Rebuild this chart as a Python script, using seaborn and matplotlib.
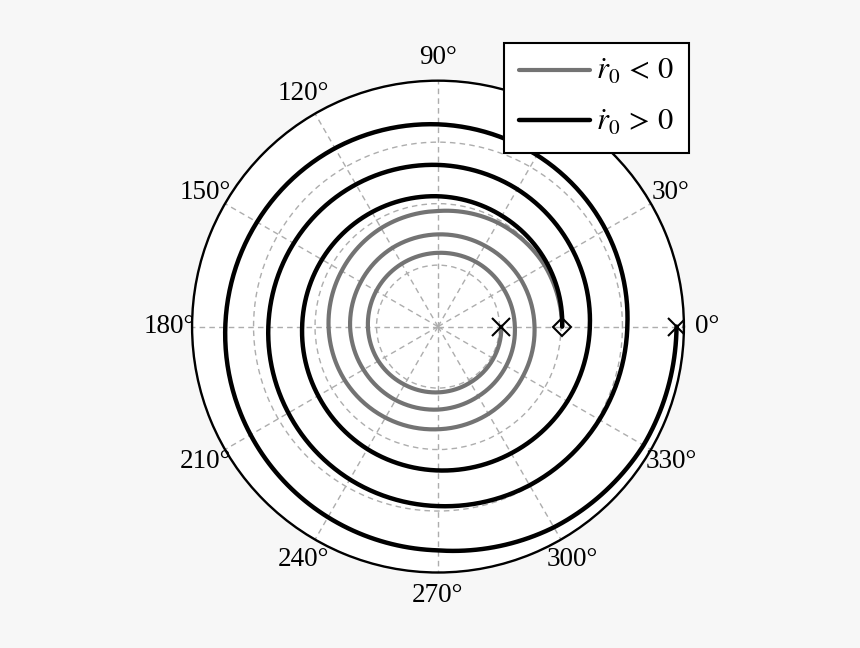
import numpy as np
import matplotlib
matplotlib.use("Agg")
import matplotlib.pyplot as plt
import seaborn as sns

# angle along the orbit, degrees (three full turns)
theta_deg = [0, 30, 60, 90, 120, 150, 180, 210, 240, 270, 300, 330,
             360, 390, 420, 450, 480, 510, 540, 570, 600, 630, 660, 690,
             720, 750, 780, 810, 840, 870, 900, 930, 960, 990, 1020, 1050,
             1080]

# rdot_0 < 0 : spiral going inwards
r_neg = [2.02, 2.00, 1.95, 1.88, 1.85, 1.81, 1.78, 1.75, 1.71, 1.67, 1.64, 1.60,
         1.57, 1.55, 1.52, 1.50, 1.48, 1.45, 1.43, 1.40, 1.38, 1.35, 1.31, 1.28,
         1.25, 1.23, 1.22, 1.20, 1.18, 1.16, 1.14, 1.12, 1.09, 1.07, 1.05, 1.04,
         1.03]

# rdot_0 > 0 : spiral going outwards
r_pos = [2.02, 2.05, 2.08, 2.12, 2.15, 2.18, 2.21, 2.25, 2.30, 2.34, 2.38, 2.43,
         2.47, 2.52, 2.58, 2.63, 2.67, 2.71, 2.76, 2.81, 2.87, 2.92, 2.98, 3.03,
         3.08, 3.15, 3.22, 3.29, 3.35, 3.40, 3.46, 3.52, 3.58, 3.64, 3.77, 3.86,
         3.88]

start_theta = [0]
start_r = [2.02]
end_theta = [0, 0]
end_r = [1.03, 3.88]

legend_labels = [r"$\dot{r}_0\,<\,0$", r"$\dot{r}_0\,>\,0$"]
r_ticks = [1, 2, 3, 4]
theta_ticks = [0, 30, 60, 90, 120, 150, 180, 210, 240, 270, 300, 330]


def make_figure():
    sns.set_style("white")
    plt.rcParams["font.family"] = ["Liberation Serif", "DejaVu Serif"]
    plt.rcParams["mathtext.fontset"] = "stix"

    fig = plt.figure(figsize=(8.6, 6.48), dpi=100, facecolor="#f7f7f7")
    ax = fig.add_axes([0.2233, 0.1165, 0.572, 0.759], projection="polar")
    ax.set_facecolor("white")
    return fig, ax


def draw_spirals(ax):
    th = np.deg2rad(theta_deg)

    sns.lineplot(x=th, y=r_neg, ax=ax, sort=False, estimator=None,
                 color="0.45", linewidth=3.0, label=legend_labels[0])
    sns.lineplot(x=th, y=r_pos, ax=ax, sort=False, estimator=None,
                 color="black", linewidth=3.2, label=legend_labels[1])

    # let the polar transform draw the segments as arcs, not chords
    for line in ax.get_lines():
        line.get_path()._interpolation_steps = 40

    ax.plot(np.deg2rad(start_theta), start_r, linestyle="none", marker="D",
            markersize=9.5, markerfacecolor="none", markeredgecolor="black",
            markeredgewidth=1.5, zorder=5)
    ax.plot(np.deg2rad(end_theta), end_r, linestyle="none", marker="x",
            markersize=13, markeredgecolor="black", markeredgewidth=1.5,
            zorder=5)


def style_axes(fig, ax):
    ax.set_rlim(0, 4)
    ax.set_rticks(r_ticks)
    ax.set_yticklabels([])
    ax.set_thetagrids(theta_ticks, [f"{t}°" for t in theta_ticks])
    ax.tick_params(axis="x", labelsize=19.5, labelcolor="black", pad=6)
    ax.set_xlabel("")
    ax.set_ylabel("")

    ax.grid(True, color="0.68", linestyle=(0, (4, 3)), linewidth=1.0)
    ax.spines["polar"].set_linewidth(1.7)
    ax.spines["polar"].set_color("black")

    leg = ax.legend(loc="upper right",
                    bbox_to_anchor=(689 / 860, 1 - 43 / 648),
                    bbox_transform=fig.transFigure,
                    fontsize=22, frameon=True, fancybox=False,
                    framealpha=1, edgecolor="black",
                    handlelength=2.3, handletextpad=0.2,
                    borderpad=0.5, labelspacing=0.7,
                    borderaxespad=0)
    leg.get_frame().set_linewidth(1.5)
    for text in leg.get_texts():
        text.set_color("black")


def main():
    fig, ax = make_figure()
    draw_spirals(ax)
    style_axes(fig, ax)
    fig.savefig("out.png", dpi=100, facecolor=fig.get_facecolor())


if __name__ == "__main__":
    main()
